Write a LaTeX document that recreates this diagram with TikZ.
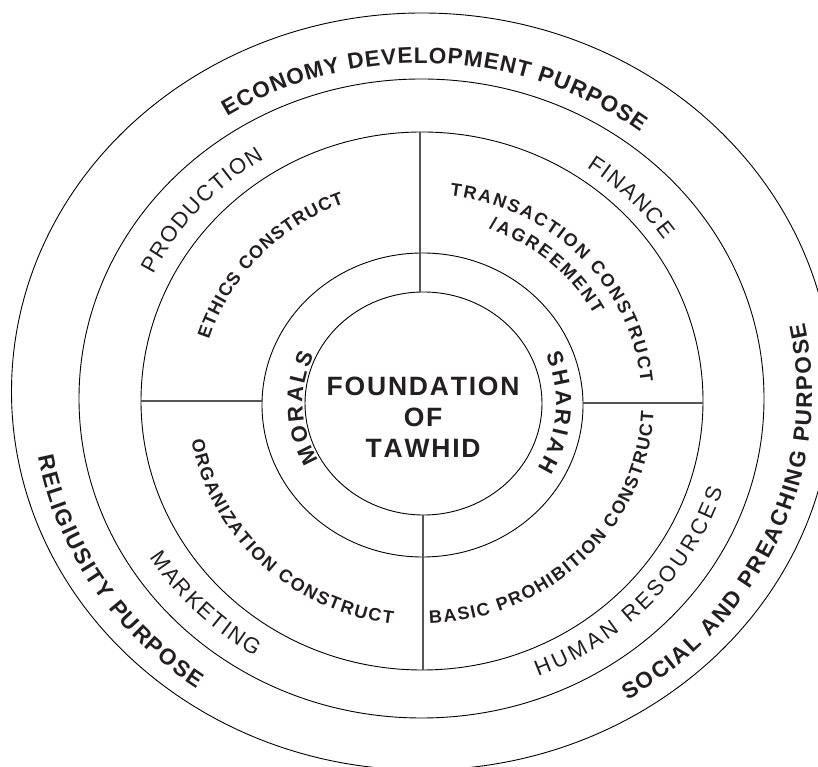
\documentclass[tikz,border=0pt]{standalone}
\usepackage{fontspec}
\setmainfont{Liberation Sans}
\usetikzlibrary{decorations.text}

\definecolor{ink}{HTML}{231F20}
\definecolor{rule}{HTML}{555555}

% type styles
\newcommand\purposefont{\bfseries\fontsize{22.5}{26}\selectfont}
\newcommand\areafont{\fontsize{22}{26}\selectfont}
\newcommand\constructfont{\bfseries\fontsize{18}{21}\selectfont}
\newcommand\pillarfont{\bfseries\fontsize{22}{26}\selectfont}
\newcommand\corefont{\bfseries\fontsize{26.5}{31}\selectfont}

% letter-spaced word for the core
\newcommand\spreadword[1]{\spreadstep#1\relax}
\def\spreadstep#1{\ifx\relax#1\else#1\kern1.8pt\expandafter\spreadstep\fi}

\tikzset{
  ring/.style={draw=black, line width=0.9pt},
  divider/.style={draw=rule, line width=1.1pt},
  curved/.style={decorate, decoration={text along path, text={#1},
      text align={fit to path}, text color=ink}},
  core/.style={inner sep=0pt, text=ink, font=\corefont, anchor=base},
}

\begin{document}
\begin{tikzpicture}[x=1pt, y=1pt]
\useasboundingbox (0,0) rectangle (818,767);
\clip (0,0) rectangle (818,767);
\fill[white] (0,0) rectangle (818,767);

% ---- concentric rings ----
\coordinate (c4) at (422,375.5);
\coordinate (c3) at (421.5,368.5);
\coordinate (c2) at (422,366);
\coordinate (c1) at (422.5,362);
\coordinate (c0) at (423.5,363.5);
\draw[ring] (c4) ellipse [x radius=410.5pt, y radius=378.5pt];
\draw[ring] (c3) ellipse [x radius=342.5pt, y radius=319.5pt];
\draw[ring] (c2) ellipse [x radius=281pt, y radius=269pt];
\draw[ring] (c1) ellipse [x radius=160.5pt, y radius=152pt];
\draw[ring] (c0) ellipse [x radius=118.5pt, y radius=111.5pt];

% ---- quadrant dividers ----
\coordinate (topA) at (420,635);   \coordinate (topB) at (420,475);
\coordinate (botA) at (423,252);   \coordinate (botB) at (423,97);
\coordinate (lefA) at (141,366);   \coordinate (lefB) at (262,366);
\coordinate (rigA) at (583,364);   \coordinate (rigB) at (703,364);
\draw[divider] (topA) -- (topB);
\draw[divider] (botA) -- (botB);
\draw[divider] (lefA) -- (lefB);
\draw[divider] (rigA) -- (rigB);

% ---- outer ring: purposes ----
\path[curved={|\purposefont|ECONOMY DEVELOPMENT PURPOSE}]
  (421.6,370.2) ++(122.8:359pt and 333.7pt)
  arc[start angle=122.8, end angle=52.5, x radius=359pt, y radius=333.7pt];
\path[curved={|\purposefont|SOCIAL AND PREACHING PURPOSE}]
  (421.9,373.4) ++(-58.2:390.1pt and 360.8pt)
  arc[start angle=-58.2, end angle=11.3, x radius=390.1pt, y radius=360.8pt];
\path[curved={|\purposefont|RELIGIUSITY PURPOSE}]
  (421.9,373.4) ++(190.1:390.1pt and 360.8pt)
  arc[start angle=190.1, end angle=234.8, x radius=390.1pt, y radius=360.8pt];

% ---- second ring: functions ----
\path[curved={|\areafont|PRODUCTION}]
  (421.85,366.75) ++(153.8:299.45pt and 284.15pt)
  arc[start angle=153.8, end angle=121.8, x radius=299.45pt, y radius=284.15pt];
\path[curved={|\areafont|FINANCE}]
  (421.9,366.6) ++(56.1:295.1pt and 280.6pt)
  arc[start angle=56.1, end angle=34.9, x radius=295.1pt, y radius=280.6pt];
\path[curved={|\areafont|MARKETING}]
  (421.7,367.6) ++(211.7:319.7pt and 300.8pt)
  arc[start angle=211.7, end angle=238.6, x radius=319.7pt, y radius=300.8pt];
\path[curved={|\areafont|HUMAN RESOURCES}]
  (421.7,367.4) ++(-68.4:316.1pt and 297.8pt)
  arc[start angle=-68.4, end angle=-17.7, x radius=316.1pt, y radius=297.8pt];

% ---- third ring: constructs ----
\path[curved={|\constructfont|ETHICS CONSTRUCT}]
  (422.24,364.1) ++(162.8:223.2pt and 212.8pt)
  arc[start angle=162.8, end angle=110.4, x radius=223.2pt, y radius=212.8pt];
\path[curved={|\constructfont|TRANSACTION CONSTRUCT}]
  (422.26,364) ++(82.8:219.5pt and 209.3pt)
  arc[start angle=82.8, end angle=5.6, x radius=219.5pt, y radius=209.3pt];
\path[curved={|\constructfont|/AGREEMENT}]
  (422.36,363.2) ++(70.1:195.4pt and 185.9pt)
  arc[start angle=70.1, end angle=28.4, x radius=195.4pt, y radius=185.9pt];
\path[curved={|\constructfont|ORGANIZATION CONSTRUCT}]
  (422.2,364.4) ++(189.7:234pt and 223.4pt)
  arc[start angle=189.7, end angle=262.7, x radius=234pt, y radius=223.4pt];
\path[curved={|\constructfont|BASIC PROHIBITION CONSTRUCT}]
  (422.2,364.4) ++(-88.2:231.6pt and 221pt)
  arc[start angle=-88.2, end angle=-2.5, x radius=231.6pt, y radius=221pt];

% ---- inner ring: pillars ----
\path[curved={|\pillarfont|MORALS}]
  (c0) ++(209.7:121pt and 114pt)
  arc[start angle=209.7, end angle=154.8, x radius=121pt, y radius=114pt];
\path[curved={|\pillarfont|SHARIAH}]
  (c0) ++(22.7:132.5pt and 125.5pt)
  arc[start angle=22.7, end angle=-30.9, x radius=132.5pt, y radius=125.5pt];

% ---- core ----
\node[core] (core1) at (424,371) {\spreadword{FOUNDATION}};
\node[core] (core2) at (424,340) {\spreadword{OF}};
\node[core] (core3) at (424,309) {\spreadword{TAWHID}};
\end{tikzpicture}
\end{document}
